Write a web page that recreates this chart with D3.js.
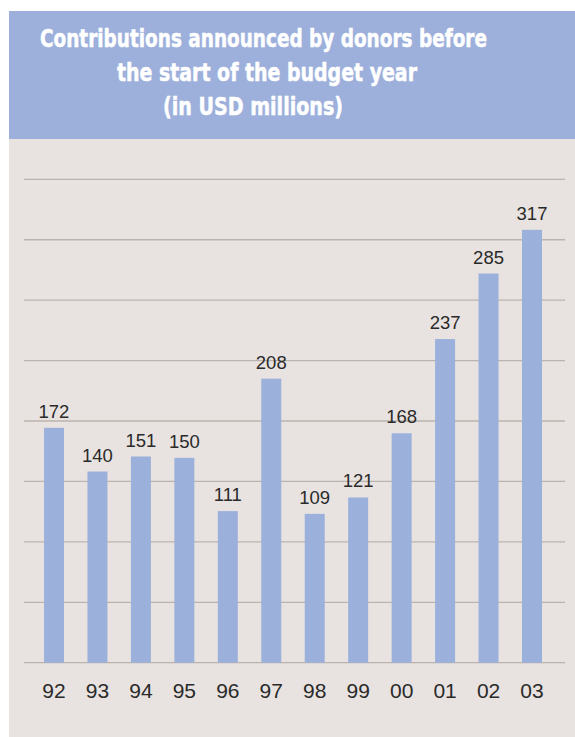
<!DOCTYPE html>
<html lang="en">
<head>
<meta charset="UTF-8">
<title>Contributions announced by donors</title>
<script src="https://d3js.org/d3.v7.min.js"></script>
<style>
    body { margin: 0; padding: 0; background: #ffffff; }
    svg { display: block; }
</style>
</head>
<body>
<div id="chart"></div>
<script>
    // Data
    const years = ['92', '93', '94', '95', '96', '97', '98', '99', '00', '01', '02', '03'];
    const values = [172, 140, 151, 150, 111, 208, 109, 121, 168, 237, 285, 317];
    const titleLines = [
        'Contributions announced by donors before',
        'the start of the budget year',
        '(in USD millions)'
    ];
    const gridCount = 8;
    const yMax = 354;

    const width = 575, height = 737;
    const svg = d3.select('#chart').append('svg')
        .attr('width', width)
        .attr('height', height);

    // Panel background and title band
    svg.append('rect')
        .attr('x', 9).attr('y', 11)
        .attr('width', width - 9).attr('height', height - 11)
        .attr('fill', '#e8e3e0');
    svg.append('rect')
        .attr('x', 9).attr('y', 11)
        .attr('width', width - 9).attr('height', 128)
        .attr('fill', '#9db0db');

    const titleLayout = [
        { cx: 263.5, y: 46.5, w: 447 },
        { cx: 267, y: 81, w: 300 },
        { cx: 253, y: 115, w: 180 }
    ];
    svg.append('g').selectAll('text')
        .data(titleLines)
        .join('text')
        .attr('x', (d, i) => titleLayout[i].cx)
        .attr('y', (d, i) => titleLayout[i].y)
        .attr('text-anchor', 'middle')
        .attr('textLength', (d, i) => titleLayout[i].w)
        .attr('lengthAdjust', 'spacingAndGlyphs')
        .attr('fill', '#ffffff')
        .attr('stroke', '#ffffff')
        .attr('stroke-width', 0.5)
        .style('font-family', '"Liberation Sans Narrow", "DejaVu Sans Condensed", "Liberation Sans", Arial, sans-serif')
        .style('font-weight', 'bold')
        .style('font-size', '25px')
        .text(d => d);

    // Scales
    const x = d3.scaleBand()
        .domain(years)
        .range([44, 542])
        .paddingInner(0.54)
        .paddingOuter(0);

    const y = d3.scaleLinear()
        .domain([0, yMax])
        .range([662.7, 179.3]);

    // Gridlines
    const gridValues = d3.range(0, gridCount + 1).map(i => i * yMax / gridCount);
    svg.append('g').selectAll('line')
        .data(gridValues)
        .join('line')
        .attr('x1', 24).attr('x2', 565)
        .attr('y1', d => y(d)).attr('y2', d => y(d))
        .attr('stroke', '#bdb3ae')
        .attr('stroke-width', 1.3);

    // Bars
    svg.append('g').selectAll('rect')
        .data(values)
        .join('rect')
        .attr('x', (d, i) => x(years[i]))
        .attr('y', d => y(d))
        .attr('width', x.bandwidth())
        .attr('height', d => y(0) - y(d))
        .attr('fill', '#9bb0db');

    // Value labels
    svg.append('g').selectAll('text')
        .data(values)
        .join('text')
        .attr('x', (d, i) => x(years[i]) + x.bandwidth() / 2)
        .attr('y', d => y(d) - 10)
        .attr('text-anchor', 'middle')
        .attr('fill', '#2a2a2a')
        .style('font-family', '"Liberation Sans", Arial, sans-serif')
        .style('font-size', '18.5px')
        .text(d => d);

    // Category axis labels
    const xAxis = svg.append('g')
        .attr('transform', `translate(0,${y(0)})`)
        .call(d3.axisBottom(x).tickSize(0).tickPadding(20));
    xAxis.select('.domain').remove();
    xAxis.selectAll('text')
        .attr('fill', '#2a2a2a')
        .style('font-family', '"Liberation Sans", Arial, sans-serif')
        .style('font-size', '21px');
</script>
</body>
</html>
